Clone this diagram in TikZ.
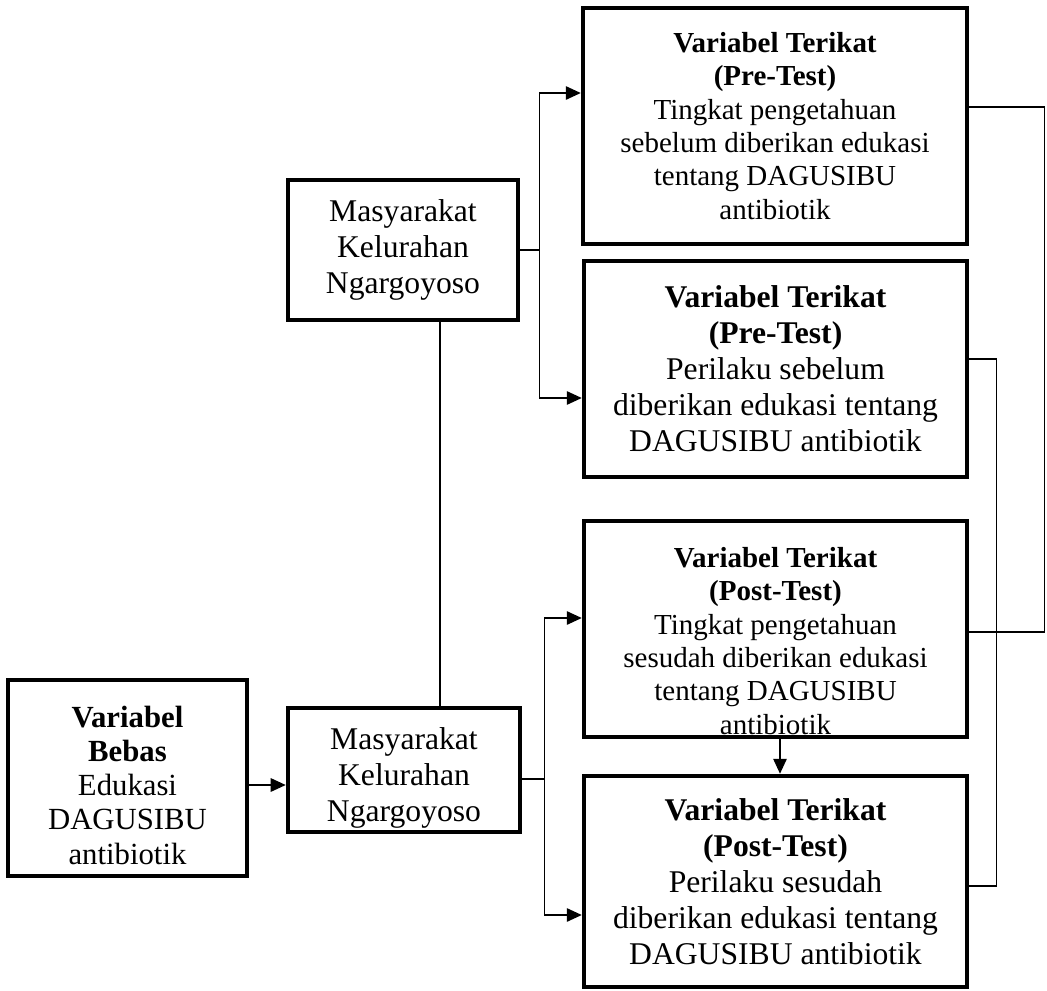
\documentclass[tikz,border=0pt]{standalone}
\usepackage{fontspec}
\setmainfont{Liberation Serif}
\usetikzlibrary{arrows.meta, positioning, calc}

\begin{document}
\begin{tikzpicture}[x=0.02cm, y=-0.02cm, >={Triangle[length=0.3cm, width=0.27cm]},
    box/.style={draw, line width=2.6pt, align=center, inner sep=2pt},
    big/.style={font=\fontsize{18}{20.5}\selectfont},
    mid/.style={font=\fontsize{16.5}{19}\selectfont},
    link/.style={line width=0.8pt}
  ]
  \useasboundingbox (0,0) rectangle (1047,990);

  % free variable and the two community boxes
  \node[mid, align=center, font=\fontsize{17.5}{19.5}\selectfont] (Atxt) at (127.5,785) {\textbf{Variabel}\\\textbf{Bebas}\\Edukasi\\DAGUSIBU\\antibiotik};
  \node[box, minimum width=4.78cm, minimum height=3.92cm] (A) at (127.5,778) {};
  \node[box, big, minimum width=4.6cm, minimum height=2.8cm] (M1) at (403,250) {Masyarakat\\Kelurahan\\Ngargoyoso};
  \node[big, align=center] (M2txt) at (404,778) {Masyarakat\\Kelurahan\\Ngargoyoso};
  \node[box, minimum width=4.64cm, minimum height=2.48cm] (M2) at (404,770) {};

  % dependent variables
  \node[box, mid, minimum width=7.68cm, minimum height=4.72cm] (P1) at (775,126) {\textbf{Variabel Terikat}\\\textbf{(Pre-Test)}\\Tingkat pengetahuan\\sebelum diberikan edukasi\\tentang DAGUSIBU\\antibiotik};
  \node[box, big, minimum width=7.66cm, minimum height=4.32cm] (P2) at (775.5,369) {\textbf{Variabel Terikat}\\\textbf{(Pre-Test)}\\Perilaku sebelum\\diberikan edukasi tentang\\DAGUSIBU antibiotik};
  \node[mid, align=center] (Q1txt) at (775.5,641) {\textbf{Variabel Terikat}\\\textbf{(Post-Test)}\\Tingkat pengetahuan\\sesudah diberikan edukasi\\tentang DAGUSIBU\\antibiotik};
  \node[box, minimum width=7.66cm, minimum height=4.32cm] (Q1) at (775.5,629) {};
  \node[box, big, minimum width=7.66cm, minimum height=4.22cm] (Q2) at (775.5,881.5) {\textbf{Variabel Terikat}\\\textbf{(Post-Test)}\\Perilaku sesudah\\diberikan edukasi tentang\\DAGUSIBU antibiotik};

  % connectors
  \coordinate (aout) at ([yshift=-0.14cm]A.east);
  \draw[->, link] (aout) -- (aout -| M2.west);
  \coordinate (drop) at ([xshift=0.74cm]M1.south);
  \draw[link] (drop) -- (drop |- M2.north);

  \draw[->, link] (M1.east) -- ++(19,0) coordinate (split1) |- ([yshift=0.66cm]P1.west);
  \draw[->, link] (split1) |- ([yshift=-0.58cm]P2.west);
  \draw[->, link] ([yshift=-0.18cm]M2.east) -- ++(22,0) coordinate (split2) |- ([yshift=0.22cm]Q1.west);
  \draw[->, link] (split2) |- ([yshift=-0.67cm]Q2.west);
  \draw[->, link] ([xshift=0.09cm]Q1.south) -- ([xshift=0.09cm]Q2.north);

  \draw[link] ([yshift=0.38cm]P1.east) -- ++(75,0) |- ([yshift=-0.06cm]Q1.east);
  \draw[link] ([yshift=0.2cm]P2.east) -- ++(27,0) |- ([yshift=-0.09cm]Q2.east);
\end{tikzpicture}
\end{document}
